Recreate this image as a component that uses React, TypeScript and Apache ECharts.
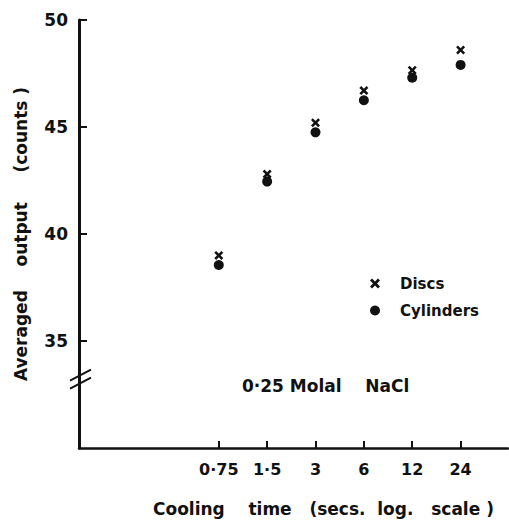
import React, { useEffect, useRef } from "react";
import * as echarts from "echarts";

const tickLabels = ["0·75", "1·5", "3", "6", "12", "24"];
const coolingTimes = [0.75, 1.5, 3, 6, 12, 24];
const discs = [39.0, 42.8, 45.2, 46.7, 47.65, 48.6];
const cylinders = [38.55, 42.45, 44.75, 46.25, 47.3, 47.9];
const yTicks = [35, 40, 45, 50];
const breakValue = 33.2;

const FONT = "DejaVu Sans";
const INK = "#111";
const CROSS =
  "path://M0,2L2,0L5,3L8,0L10,2L7,5L10,8L8,10L5,7L2,10L0,8L3,5Z";

const logPos = (t: number) => Math.log2(t / coolingTimes[0]);
const sp = (n: number) => "\u00a0".repeat(n);

export default function App() {
  const ref = useRef<HTMLDivElement>(null);
  useEffect(() => {
    if (!ref.current) return;
    const chart = echarts.init(ref.current, undefined, { renderer: "svg" });
    const tickPos = coolingTimes.map(logPos);
    chart.setOption({
      animation: false,
      backgroundColor: "#fff",
      grid: { left: 79, right: 1, top: 20, bottom: 74, outerBoundsMode: "none", containLabel: false },
      xAxis: {
        type: "value",
        min: -2.89,
        max: 5.98,
        axisLine: { lineStyle: { color: INK, width: 2.5 } },
        axisTick: {
          show: true,
          inside: true,
          length: 7,
          customValues: tickPos,
          lineStyle: { color: INK, width: 2 },
        },
        axisLabel: {
          customValues: tickPos,
          formatter: (v: number) => tickLabels[Math.round(v)] ?? "",
          color: INK,
          fontFamily: FONT,
          fontWeight: "bold",
          fontSize: 16,
          margin: 13,
        },
        splitLine: { show: false },
      },
      yAxis: {
        type: "value",
        min: 30,
        max: 50,
        interval: 5,
        name: `Averaged${sp(4)}output${sp(5)}(counts${sp(1)})`,
        nameLocation: "middle",
        nameRotate: 90,
        nameGap: 50,
        nameTextStyle: { color: INK, fontFamily: FONT, fontWeight: "bold", fontSize: 17 },
        axisLine: { show: true, onZero: false, lineStyle: { color: INK, width: 3 } },
        axisTick: {
          show: true,
          inside: true,
          length: 8,
          customValues: yTicks,
          lineStyle: { color: INK, width: 2 },
        },
        axisLabel: {
          customValues: yTicks,
          color: INK,
          fontFamily: FONT,
          fontWeight: "bold",
          fontSize: 17,
          margin: 11,
        },
        splitLine: { show: false },
      },
      legend: {
        orient: "vertical",
        left: 365,
        top: 271,
        itemWidth: 10,
        itemHeight: 10,
        itemGap: 12,
        itemStyle: { opacity: 1 },
        textStyle: {
          color: INK,
          fontFamily: FONT,
          fontWeight: "bold",
          fontSize: 15,
          padding: [0, 0, 0, 15],
        },
        data: [
          { name: "Discs", icon: CROSS },
          { name: "Cylinders", icon: "circle" },
        ],
      },
      series: [
        {
          name: "Cylinders",
          type: "scatter",
          symbol: "circle",
          symbolSize: 10,
          itemStyle: { color: INK, opacity: 1 },
          data: coolingTimes.map((t, i) => [logPos(t), cylinders[i]]),
        },
        {
          name: "Discs",
          type: "scatter",
          symbol: CROSS,
          symbolSize: 9,
          itemStyle: { color: INK, opacity: 1 },
          data: coolingTimes.map((t, i) => [logPos(t), discs[i]]),
        },
      ],
    });
    const [ax, ay] = chart.convertToPixel({ gridIndex: 0 }, [-2.89, breakValue]) as number[];
    chart.setOption({
      graphic: [
        {
          type: "line",
          shape: { x1: ax - 9, y1: ay + 1, x2: ax + 12, y2: ay - 10 },
          style: { stroke: INK, lineWidth: 2 },
        },
        {
          type: "line",
          shape: { x1: ax - 9, y1: ay + 9, x2: ax + 12, y2: ay - 2 },
          style: { stroke: INK, lineWidth: 2 },
        },
        {
          type: "text",
          left: 242,
          top: 377,
          style: {
            text: `0·25 Molal${sp(4)}NaCl`,
            fill: INK,
            font: `bold 17px "${FONT}"`,
          },
        },
        {
          type: "text",
          left: 153,
          top: 500,
          style: {
            text: `Cooling${sp(4)}time${sp(3)}(secs.${sp(2)}log.${sp(3)}scale${sp(1)})`,
            fill: INK,
            font: `bold 17px "${FONT}"`,
          },
        },
      ],
    });
    return () => chart.dispose();
  }, []);
  return (
    <div
      ref={ref}
      style={{ position: "fixed", left: 0, top: 0, width: 509, height: 522 }}
    />
  );
}
